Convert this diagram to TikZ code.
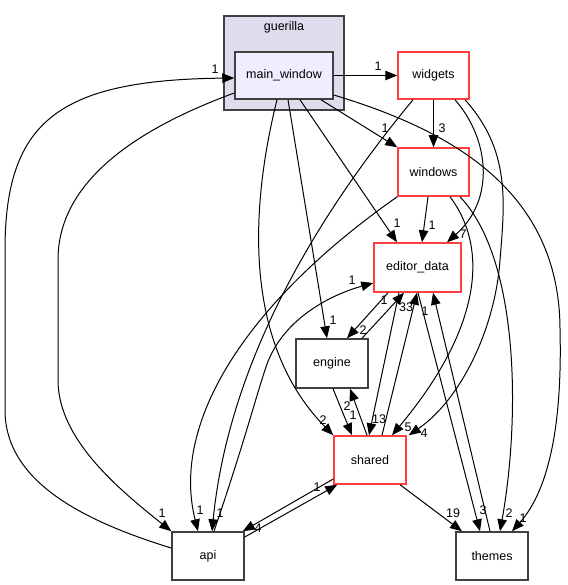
\documentclass[tikz,border=0pt]{standalone}
\usepackage{fontspec}
\setmainfont{Liberation Sans}
\usetikzlibrary{arrows.meta}
\definecolor{redb}{RGB}{255,64,64}
\definecolor{grayb}{RGB}{64,64,64}
\definecolor{clfill}{RGB}{221,221,238}
\definecolor{mwfill}{RGB}{238,238,255}
\begin{document}
\begin{tikzpicture}[x=1pt,y=-1pt,
 font=\fontsize{12.5}{15}\selectfont,
 box/.style={draw=grayb, line width=1.5pt, fill=white, inner sep=0pt, minimum width=72pt, minimum height=48pt},
 redbox/.style={box, draw=redb},
 dep/.style={draw=black, line width=1pt, -{Triangle[length=12pt,width=9.5pt]}},
 lbl/.style={inner sep=0pt}]
\useasboundingbox (0,0) rectangle (567,585);
% cluster
\node[draw=grayb, line width=1.5pt, fill=clfill, minimum width=120pt, minimum height=94pt, inner sep=0pt] (guerilla) at (284,63) {};
\node[lbl] (glabel) at (284,27) {guerilla};
% nodes
\node[box, fill=mwfill, minimum width=98pt, minimum height=47pt] (mw) at (284,75.5) {main\_window};
\node[redbox, minimum width=71pt, minimum height=47pt] (widgets) at (433.5,75.5) {widgets};
\node[redbox, minimum width=71pt] (windows) at (433.5,172) {windows};
\node[redbox, minimum width=87pt, minimum height=49pt] (ed) at (417.5,267.5) {editor\_data};
\node[box, minimum height=49pt] (engine) at (332,363.5) {engine};
\node[redbox] (shared) at (370,460) {shared};
\node[box] (api) at (208,556) {api};
\node[box] (themes) at (492,556) {themes};
% edges
\draw[dep] ([yshift=8pt]api.west) .. controls (80,520) and (5,480) .. (5,410) -- (5,250) .. controls (5,120) and (60,80) .. ([yshift=-2.5pt]mw.west);
\draw[dep] ([yshift=-17.5pt]mw.west) .. controls (120,135) and (58,190) .. (58,260) -- (58,380) .. controls (58,440) and (120,490) .. (api.north west);
\draw[dep] (mw.east) -- (widgets.west);
\draw[dep] ([xshift=37pt]mw.south) -- (windows.north west);
\draw[dep] (widgets.south) -- (windows.north);
\draw[dep] ([xshift=16pt]mw.south) -- ([xshift=-20.5pt]ed.north);
\draw[dep] ([xshift=4pt]mw.south) -- ([xshift=-5pt]engine.north);
\draw[dep] ([xshift=-7pt]mw.south) .. controls (252,200) and (240,340) .. (shared.north west);
\draw[dep] ([yshift=-19.5pt]mw.east) .. controls (450,130) and (560,190) .. (560,330) .. controls (563,450) and (540,500) .. ([xshift=20pt]themes.north);
\draw[dep] ([xshift=-20.5pt]widgets.south) .. controls (330,200) and (230,350) .. ([xshift=4pt]api.north);
\draw[dep] (windows.south west) .. controls (250,300) and (170,420) .. ([xshift=-10pt]api.north);
\draw[dep] ([xshift=6pt]api.north) .. controls (245,440) and (255,400) .. (265,370) .. controls (280,320) and (330,295) .. ([yshift=-15.5pt]ed.west);
\draw[dep] ([xshift=21.5pt]widgets.south) .. controls (490,140) and (495,200) .. ([xshift=29.5pt]ed.north);
\draw[dep] ([xshift=31.5pt]widgets.south) .. controls (510,150) and (505,200) .. (500,260) .. controls (495,330) and (460,400) .. ([xshift=2pt]shared.north east);
\draw[dep] ([xshift=-5.5pt]windows.south) -- ([xshift=4.5pt]ed.north);
\draw[dep] ([xshift=16.5pt]windows.south) .. controls (490,250) and (480,330) .. ([xshift=22pt]shared.north);
\draw[dep] ([xshift=26.5pt]windows.south) .. controls (520,260) and (520,420) .. ([xshift=8pt]themes.north);
\draw[dep] ([xshift=-29.5pt]ed.south) -- ([xshift=15pt]engine.north);
\draw[dep] ([xshift=30pt]engine.north) -- ([xshift=-13.5pt]ed.south);
\draw[dep] ([xshift=1pt]engine.south) -- ([xshift=-18pt]shared.north);
\draw[dep] ([xshift=-3pt]shared.north) -- ([xshift=18pt]engine.south);
\draw[dep] ([xshift=-18.5pt]ed.south) -- ([xshift=-1pt]shared.north);
\draw[dep] ([xshift=12pt]shared.north) -- ([xshift=-0.5pt]ed.south);
\draw[dep] ([xshift=0.5pt]ed.south) -- ([xshift=-12pt]themes.north);
\draw[dep] ([xshift=-2pt]themes.north) -- ([xshift=15.5pt]ed.south);
\draw[dep] ([xshift=30pt]shared.south) -- ([xshift=-30pt]themes.north);
\draw[dep] ([yshift=-19pt]shared.west) -- ([xshift=-2pt]api.north east);
\draw[dep] ([yshift=19pt]api.east) -- ([xshift=4pt]shared.south west);
% labels
\node[lbl] (l1) at (215,69) {1};
\node[lbl] (l2) at (162,513) {1};
\node[lbl] (l3) at (378,66) {1};
\node[lbl] (l4) at (385,128) {1};
\node[lbl] (l5) at (442,128) {3};
\node[lbl] (l6) at (397,223) {1};
\node[lbl] (l7) at (333,320) {1};
\node[lbl] (l8) at (323,420) {2};
\node[lbl] (l10) at (200,510) {1};
\node[lbl] (l11) at (220,513) {1};
\node[lbl] (l12) at (352,280) {1};
\node[lbl] (l13) at (463,234) {7};
\node[lbl] (l14) at (424,433) {4};
\node[lbl] (l15) at (432,225) {1};
\node[lbl] (l16) at (408,427) {5};
\node[lbl] (l17) at (509,513) {2};
\node[lbl] (l18) at (384,300) {1};
\node[lbl] (l19) at (363,330) {2};
\node[lbl] (l20) at (353,415) {1};
\node[lbl] (l21) at (347,406) {2};
\node[lbl] (l22) at (379,419) {13};
\node[lbl] (l23) at (406,307) {33};
\node[lbl] (l24) at (483,510) {3};
\node[lbl] (l25) at (425,311) {1};
\node[lbl] (l26) at (453,513) {19};
\node[lbl] (l27) at (258,528) {4};
\node[lbl] (l28) at (317,487) {1};
\node[lbl] (l29) at (523,518) {1};
\end{tikzpicture}
\end{document}
